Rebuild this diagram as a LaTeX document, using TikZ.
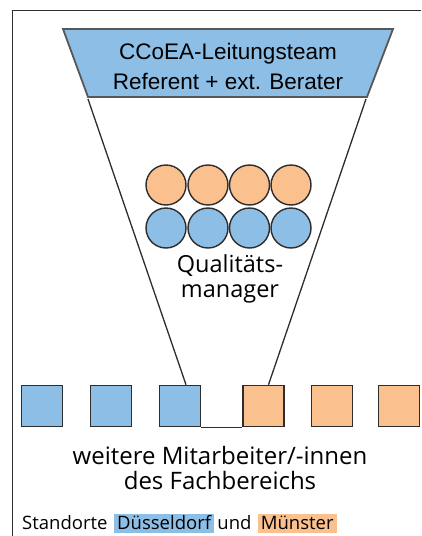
\documentclass[tikz,border=0pt]{standalone}
\usepackage{fontspec}
\setmainfont{Open Sans}
\newfontfamily\arialf{Liberation Sans}
\definecolor{qblue}{RGB}{141,190,230}
\definecolor{qorange}{RGB}{250,193,143}
\definecolor{qline}{RGB}{45,45,45}
\begin{document}
\begin{tikzpicture}[x=1pt,y=-1pt,
  sq/.style={draw=qline,line width=1.6pt,minimum size=41pt,inner sep=0pt},
  circ/.style={circle,draw=qline,line width=1.4pt,minimum size=40pt,inner sep=0pt},
  conn/.style={draw=qline,line width=1.3pt},
  lbl/.style={align=center,inner sep=0pt},
  leg/.style={anchor=base west,inner xsep=3pt,inner ysep=0pt,text depth=3.5pt,text height=15.5pt,font=\fontsize{18.5}{20}\selectfont}]
\useasboundingbox (0,0) rectangle (421,536);
% frame
\draw[line width=1.3pt,draw=qline] (421,10.5) -- (12.5,10.5) -- (12.5,536);
% trapezoid
\coordinate (tl) at (63,29);
\coordinate (tr) at (393,29);
\coordinate (br) at (367,97);
\coordinate (bl) at (88,97);
\draw[fill=qblue,draw=qline!80,line width=1.8pt,line join=miter] (tl) -- (tr) -- (br) -- (bl) -- cycle;
\node[lbl,font=\arialf\fontsize{22.5}{30}\selectfont] (top) at (228,66) {CCoEA-Leitungsteam\\Referent + ext. Berater};
% circles
\foreach \i/\x in {1/166,2/208,3/249.5,4/291}{
  \node[circ,fill=qorange] (o\i) at (\x,185) {};
  \node[circ,fill=qblue] (b\i) at (\x,228) {};
}
\node[lbl,font=\fontsize{23.5}{25}\selectfont] (qm) at (230,279) {Qualitäts-\\manager};
% squares
\foreach \i/\x/\c in {1/42/qblue,2/111/qblue,3/180/qblue,4/263.5/qorange,5/332/qorange,6/399/qorange}{
  \node[sq,fill=\c] (s\i) at (\x,406) {};
}
\coordinate (l1) at (88,99);
\coordinate (r1) at (366,99);
\draw[conn] (l1) -- ([xshift=6pt]s3.north);
\draw[conn] (r1) -- ([xshift=5pt]s4.north);
\draw[conn] (s3.south east) -- (s4.south west);
\node[lbl,font=\fontsize{24}{25}\selectfont] (mit) at (220,468) {weitere Mitarbeiter/-innen\\des Fachbereichs};
% legend
\node[leg,inner xsep=0pt] (st) at (22,529) {Standorte};
\node[leg,fill=qblue] (dus) at (114,529) {Düsseldorf};
\node[leg,inner xsep=0pt] (und) at ([xshift=3pt]dus.base east) {und};
\node[leg,fill=qorange] (mun) at ([xshift=6pt]und.base east) {Münster};
\end{tikzpicture}
\end{document}
